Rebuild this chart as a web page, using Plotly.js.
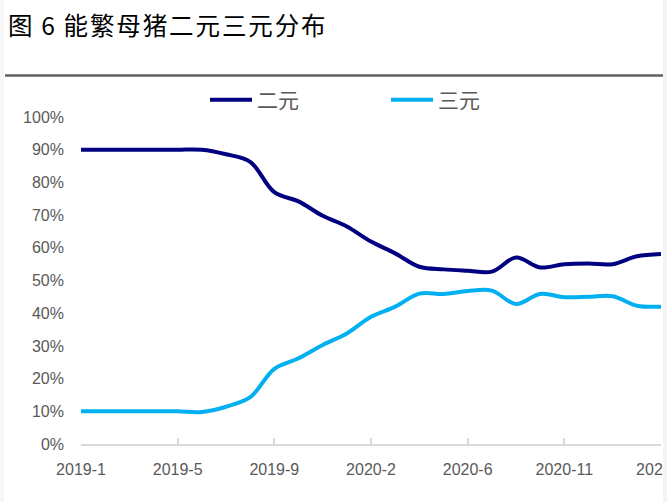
<!DOCTYPE html>
<html>
<head>
<meta charset="utf-8">
<script src="https://cdn.plot.ly/plotly-3.0.1.min.js"></script>
<style>
html,body{margin:0;padding:0;background:#fff;}
#chart{width:667px;height:502px;}
.gtitle{letter-spacing:1.9px;}
</style>
</head>
<body>
<div id="chart"></div>
<script>
const months = ["2019-1","2019-2","2019-3","2019-4","2019-5","2019-6","2019-7","2019-8","2019-9","2019-10","2019-11","2019-12",
  "2020-2","2020-3","2020-4","2020-5","2020-6","2020-7","2020-8","2020-9","2020-11","2020-12","2021-2","2021-3","2021-4"];
const erYuan = [90,90,90,90,90,90,88.6,86.3,77,74.2,69.8,66.5,61.9,58.3,54.2,53.4,53.0,52.7,57,54,55,55.2,55,57.4,58.1];
const sanYuan = [10,10,10,10,10,9.8,11.4,14.3,23,26.2,30.3,33.8,38.9,42,46,45.9,46.8,46.9,42.8,45.9,44.9,45,45.2,42.3,42];
const tickLabels = ["2019-1","2019-5","2019-9","2020-2","2020-6","2020-11","2021-4"];
const seriesNames = ["二元","三元"];
const titleText = "图\u20096\u2009能繁母猪二元三元分布";

const traces = [
  {x: months, y: erYuan, name: seriesNames[0], type: "scatter", mode: "lines",
   line: {color: "#000080", width: 4, shape: "spline", smoothing: 1.0}},
  {x: months, y: sanYuan, name: seriesNames[1], type: "scatter", mode: "lines",
   line: {color: "#00B0F0", width: 4, shape: "spline", smoothing: 1.0}}
];

const layout = {
  width: 667, height: 502,
  margin: {l: 81, r: 6, t: 117, b: 58, autoexpand: false},
  paper_bgcolor: "#ffffff", plot_bgcolor: "#ffffff",
  font: {family: "Liberation Sans, Arial, sans-serif", color: "#595959", size: 16},
  title: {text: titleText, x: 8/667, xref: "container", xanchor: "left",
          y: 1 - 26/502, yref: "container", yanchor: "middle",
          font: {family: "Noto Sans CJK SC", size: 24.5, color: "#000000"}},
  showlegend: true,
  legend: {orientation: "h", xref: "paper", x: (205-81)/580, xanchor: "left",
           y: (444-100)/327, yanchor: "middle", itemwidth: 42, entrywidth: 124,
           font: {family: "Noto Sans CJK SC, Liberation Sans", size: 21, color: "#595959"},
           bgcolor: "rgba(0,0,0,0)"},
  xaxis: {type: "category", range: [0, 24], showgrid: false, zeroline: false,
          showline: true, linecolor: "#d9d9d9", linewidth: 2,
          ticks: "inside", ticklen: 6, tickwidth: 2, tickcolor: "#d9d9d9",
          tickmode: "array", tickvals: tickLabels, ticktext: tickLabels,
          tickangle: 0, ticklabelstandoff: 10,
          tickfont: {size: 16, color: "#595959"}},
  yaxis: {range: [0, 100], dtick: 10, ticksuffix: "%", showgrid: false, zeroline: false,
          showline: false, ticks: "", ticklabelstandoff: 16,
          tickfont: {size: 16, color: "#595959"}},
  shapes: [
    {type: "line", xref: "paper", yref: "paper",
     x0: (5-81)/580, x1: (667-81)/580, y0: (444-75.5)/327, y1: (444-75.5)/327,
     line: {color: "#5f5f5f", width: 2.5}},
    {type: "rect", xref: "paper", yref: "paper",
     x0: (663-81)/580, x1: (668-81)/580, y0: -58/327, y1: (444+2)/327,
     fillcolor: "#f4f4f4", line: {width: 0}, layer: "above"},
    {type: "rect", xref: "paper", yref: "paper",
     x0: (-1-81)/580, x1: (4-81)/580, y0: -58/327, y1: (444+2)/327,
     fillcolor: "#f7f7f7", line: {width: 0}, layer: "above"}
  ]
};

Plotly.newPlot("chart", traces, layout, {displayModeBar: false, staticPlot: true});
</script>
</body>
</html>
